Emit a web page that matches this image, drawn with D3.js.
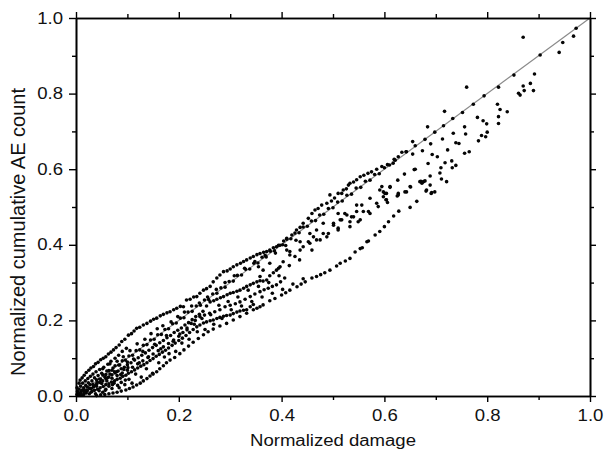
<!DOCTYPE html>
<meta charset="utf-8">
<script src="https://d3js.org/d3.v7.min.js"></script>
<style>body { margin: 0; background: #fff; }</style>
<div id="my_dataviz"></div>
<script>

// points: [normalized damage, normalized cumulative AE count]
var lineSeries = [[0.004,0.006],[0.010,0.012],[0.016,0.015],[0.022,0.024],[0.027,0.030],[0.033,0.031],[0.040,0.043],[0.046,0.045],
  [0.052,0.056],[0.058,0.057],[0.064,0.067],[0.070,0.068],[0.076,0.080],[0.083,0.082],[0.090,0.093],[0.096,0.095],[0.103,0.106],
  [0.110,0.108],[0.117,0.120],[0.124,0.122],[0.131,0.134],[0.138,0.136],[0.145,0.148],[0.152,0.150],[0.159,0.162],[0.166,0.163],
  [0.173,0.176],[0.180,0.178],[0.188,0.191],[0.195,0.193],[0.203,0.206],[0.210,0.207],[0.218,0.222],[0.226,0.224],[0.234,0.238],
  [0.242,0.240],[0.250,0.254],[0.258,0.255],[0.266,0.270],[0.274,0.272],[0.282,0.286],[0.290,0.288],[0.298,0.303],[0.306,0.304],
  [0.314,0.319],[0.322,0.320],[0.330,0.335],[0.338,0.336],[0.346,0.351],[0.354,0.352],[0.362,0.367],[0.370,0.368],[0.378,0.383],
  [0.386,0.384],[0.394,0.399],[0.402,0.400],[0.410,0.415],[0.418,0.416],[0.426,0.431],[0.434,0.432],[0.442,0.447],[0.450,0.449],
  [0.458,0.463],[0.466,0.464],[0.474,0.479],[0.482,0.481],[0.491,0.496],[0.500,0.498],[0.509,0.513],[0.518,0.516],[0.527,0.531],
  [0.536,0.534],[0.545,0.550],[0.554,0.552],[0.563,0.568],[0.572,0.571],[0.581,0.586],[0.590,0.588],[0.600,0.604],[0.610,0.611],
  [0.621,0.624],[0.634,0.645],[0.643,0.646],[0.660,0.662],[0.679,0.679],[0.698,0.698],[0.715,0.715],[0.733,0.734],[0.752,0.750],
  [0.773,0.772],[0.794,0.794],[0.822,0.817],[0.852,0.849],[0.903,0.902],[0.940,0.909],[0.947,0.935],[0.973,0.973]];

var upperSeries = [[0.002,0.022],[0.006,0.034],[0.008,0.042],[0.012,0.048],[0.016,0.055],[0.020,0.062],[0.025,0.068],[0.029,0.074],
  [0.034,0.078],[0.038,0.085],[0.043,0.089],[0.048,0.096],[0.053,0.100],[0.058,0.104],[0.063,0.111],[0.068,0.116],[0.073,0.122],
  [0.078,0.128],[0.084,0.135],[0.089,0.144],[0.095,0.150],[0.102,0.161],[0.108,0.165],[0.113,0.172],[0.118,0.179],[0.124,0.182],
  [0.131,0.188],[0.138,0.192],[0.145,0.198],[0.151,0.203],[0.157,0.206],[0.164,0.212],[0.170,0.216],[0.177,0.220],[0.183,0.223],
  [0.190,0.228],[0.196,0.232],[0.203,0.237],[0.209,0.236],[0.215,0.254],[0.222,0.256],[0.229,0.262],[0.235,0.263],[0.241,0.272],
  [0.248,0.280],[0.254,0.284],[0.261,0.290],[0.267,0.302],[0.274,0.312],[0.280,0.320],[0.287,0.329],[0.294,0.331],[0.300,0.336],
  [0.306,0.342],[0.313,0.347],[0.320,0.351],[0.326,0.356],[0.332,0.360],[0.339,0.365],[0.345,0.369],[0.352,0.374],[0.358,0.377],
  [0.365,0.380],[0.371,0.382],[0.377,0.386],[0.384,0.392],[0.390,0.395],[0.397,0.399],[0.404,0.410],[0.410,0.417],[0.420,0.426],
  [0.429,0.439],[0.436,0.446],[0.442,0.457],[0.452,0.470],[0.459,0.483],[0.465,0.492],[0.471,0.496],[0.478,0.505],[0.488,0.510],
  [0.494,0.532],[0.497,0.516],[0.503,0.524],[0.510,0.536],[0.517,0.536],[0.520,0.545],[0.526,0.548],[0.530,0.558],[0.533,0.563],
  [0.540,0.566],[0.546,0.572],[0.553,0.580],[0.560,0.584],[0.568,0.589],[0.575,0.593],[0.585,0.600],[0.595,0.607],[0.606,0.612],
  [0.617,0.616],[0.627,0.633],[0.655,0.673],[0.684,0.712],[0.717,0.753],[0.760,0.817],[0.870,0.949],[0.968,0.952]];

var belowLineSeries = [[0.010,0.004],[0.016,0.010],[0.022,0.014],[0.028,0.020],[0.034,0.024],[0.040,0.031],[0.046,0.036],[0.052,0.040],
  [0.058,0.046],[0.064,0.050],[0.070,0.056],[0.076,0.061],[0.082,0.066],[0.088,0.072],[0.094,0.076],[0.100,0.083],[0.107,0.088],
  [0.114,0.095],[0.121,0.101],[0.128,0.108],[0.135,0.114],[0.142,0.121],[0.149,0.128],[0.156,0.134],[0.163,0.141],[0.170,0.147],
  [0.177,0.154],[0.184,0.160],[0.191,0.168],[0.198,0.174],[0.205,0.180],[0.212,0.188],[0.219,0.194],[0.226,0.202],[0.233,0.210],
  [0.240,0.216],[0.247,0.224],[0.254,0.238],[0.261,0.249],[0.268,0.252],[0.274,0.256],[0.281,0.260],[0.287,0.263],[0.294,0.268],
  [0.300,0.272],[0.306,0.274],[0.313,0.277],[0.319,0.280],[0.326,0.285],[0.332,0.290],[0.339,0.294],[0.345,0.298],[0.352,0.302],
  [0.358,0.305],[0.364,0.304],[0.371,0.307],[0.377,0.318],[0.384,0.326],[0.390,0.333],[0.397,0.342]];

var midSeries = [[0.355,0.342],[0.358,0.316],[0.364,0.333],[0.377,0.351],[0.394,0.338],[0.403,0.355],[0.410,0.386],[0.416,0.382],
  [0.416,0.373],[0.426,0.369],[0.436,0.408],[0.436,0.386],[0.442,0.395],[0.452,0.408],[0.455,0.404],[0.459,0.386],[0.462,0.421],
  [0.468,0.413],[0.455,0.430],[0.468,0.439],[0.475,0.413],[0.481,0.430],[0.488,0.421],[0.491,0.430],[0.481,0.457],[0.501,0.452],
  [0.501,0.457],[0.510,0.444],[0.517,0.466],[0.510,0.439],[0.510,0.483],[0.514,0.466],[0.523,0.483],[0.527,0.479],[0.533,0.448],
  [0.536,0.474],[0.540,0.474],[0.546,0.488],[0.549,0.461],[0.553,0.466],[0.559,0.488],[0.533,0.461],[0.546,0.505],[0.556,0.505],
  [0.569,0.488],[0.572,0.483],[0.572,0.523],[0.585,0.510],[0.588,0.501],[0.591,0.545],[0.595,0.554],[0.598,0.527],[0.601,0.536],
  [0.604,0.519],[0.604,0.536],[0.611,0.554],[0.627,0.532],[0.627,0.536],[0.643,0.540],[0.650,0.554],[0.669,0.567],[0.682,0.545],
  [0.692,0.538],[0.611,0.552],[0.598,0.540],[0.603,0.519],[0.606,0.512],[0.625,0.529],[0.640,0.540],[0.651,0.553],[0.626,0.571],
  [0.639,0.587],[0.658,0.599],[0.660,0.600],[0.671,0.568],[0.676,0.567],[0.679,0.569],[0.685,0.615],[0.689,0.582],[0.689,0.558],
  [0.673,0.563],[0.708,0.590],[0.710,0.604],[0.718,0.617],[0.731,0.622],[0.732,0.604],[0.739,0.610],[0.619,0.626],[0.642,0.646]];

var lowerSeries = [[0.015,0.004],[0.020,0.008],[0.026,0.006],[0.031,0.012],[0.036,0.015],[0.042,0.018],[0.047,0.022],[0.053,0.025],
  [0.058,0.030],[0.064,0.032],[0.069,0.037],[0.075,0.040],[0.080,0.044],[0.086,0.047],[0.091,0.052],[0.097,0.055],[0.102,0.060],
  [0.108,0.064],[0.114,0.069],[0.120,0.074],[0.126,0.079],[0.132,0.083],[0.138,0.088],[0.144,0.094],[0.150,0.099],[0.156,0.105],
  [0.162,0.110],[0.168,0.116],[0.174,0.121],[0.180,0.127],[0.187,0.134],[0.193,0.140],[0.200,0.147],[0.207,0.153],[0.214,0.160],
  [0.221,0.168],[0.228,0.176],[0.235,0.183],[0.241,0.188],[0.248,0.193],[0.254,0.196],[0.261,0.199],[0.267,0.201],[0.274,0.205],
  [0.280,0.208],[0.287,0.211],[0.293,0.213],[0.300,0.214],[0.306,0.218],[0.313,0.222],[0.319,0.225],[0.326,0.227],[0.332,0.228],
  [0.339,0.236],[0.345,0.242],
  [0.030,0.020],[0.040,0.026],[0.050,0.033],[0.060,0.040],[0.070,0.047],[0.080,0.054],[0.090,0.061],[0.100,0.068],[0.110,0.076],
  [0.120,0.085],[0.130,0.093],[0.140,0.102],[0.150,0.111],[0.160,0.120],[0.170,0.130],[0.180,0.139],[0.190,0.148],[0.200,0.158],
  [0.208,0.168],[0.216,0.180],[0.224,0.192],[0.232,0.200],[0.241,0.210],[0.250,0.214],[0.260,0.219],[0.270,0.223],[0.280,0.228],
  [0.290,0.236],[0.300,0.240],[0.310,0.244],[0.319,0.249],[0.329,0.256],[0.339,0.263],[0.348,0.270],[0.358,0.276],[0.366,0.281],
  [0.374,0.285],[0.382,0.290],[0.390,0.294],[0.398,0.302],[0.406,0.312]];

var lowestSeries = [[0.040,0.001],[0.048,0.003],[0.056,0.004],[0.064,0.006],[0.072,0.008],[0.080,0.010],[0.088,0.013],[0.097,0.016],
  [0.104,0.020],[0.111,0.024],[0.118,0.029],[0.125,0.034],[0.131,0.040],[0.138,0.046],[0.144,0.053],[0.150,0.058],[0.157,0.064],
  [0.163,0.072],[0.170,0.080],[0.176,0.088],[0.183,0.095],[0.192,0.102],[0.202,0.112],[0.210,0.122],[0.219,0.132],[0.228,0.142],
  [0.238,0.152],[0.248,0.162],[0.257,0.170],[0.267,0.177],[0.280,0.185],[0.293,0.192],[0.306,0.201],[0.319,0.210],
  [0.332,0.219],[0.345,0.228],[0.352,0.232],[0.358,0.236],[0.364,0.241],[0.377,0.252],[0.387,0.258],[0.400,0.267],[0.408,0.273],
  [0.416,0.280],[0.430,0.289],[0.438,0.296],[0.446,0.302],[0.459,0.312],[0.468,0.316],[0.476,0.321],[0.484,0.326],[0.494,0.333],
  [0.507,0.344],[0.514,0.351],[0.524,0.357],[0.533,0.364],[0.543,0.381],[0.553,0.390],[0.557,0.392],[0.566,0.408],[0.569,0.410],
  [0.582,0.426],[0.591,0.435],[0.600,0.448],[0.608,0.461],[0.618,0.476],[0.628,0.489],[0.650,0.499],[0.663,0.515],[0.681,0.542],
  [0.691,0.536],[0.698,0.540],[0.711,0.574],[0.721,0.567]];

var topRightSeries = [[0.655,0.640],[0.674,0.649],[0.690,0.667],[0.693,0.639],[0.703,0.633],[0.713,0.680],[0.723,0.651],[0.734,0.695],
  [0.739,0.670],[0.745,0.668],[0.756,0.712],[0.758,0.693],[0.756,0.642],[0.765,0.646],[0.781,0.737],[0.783,0.675],[0.789,0.689],
  [0.792,0.728],[0.797,0.686],[0.799,0.720],[0.800,0.698],[0.820,0.772],[0.825,0.758],[0.822,0.739],[0.822,0.721],[0.839,0.752],
  [0.861,0.801],[0.864,0.796],[0.870,0.820],[0.872,0.808],[0.884,0.827],[0.890,0.808],[0.892,0.852]];

var originCluster = [[0.002,0.004],[0.003,0.012],[0.005,0.002],[0.006,0.018],[0.008,0.008],[0.009,0.026],[0.011,0.003],[0.012,0.016],
  [0.013,0.034],[0.015,0.022],[0.017,0.009],[0.018,0.040],[0.019,0.028],[0.021,0.015],[0.023,0.046],[0.024,0.035],[0.026,0.020],
  [0.028,0.052],[0.029,0.010],[0.031,0.040],[0.033,0.058],[0.034,0.027],[0.036,0.048],[0.038,0.006],[0.039,0.064],[0.041,0.036],
  [0.043,0.054],[0.045,0.014],[0.046,0.070],[0.048,0.044],[0.050,0.060],[0.052,0.010],[0.054,0.076],[0.056,0.050],[0.058,0.018],
  [0.060,0.066],[0.062,0.084],[0.064,0.026],[0.066,0.058],[0.068,0.092],[0.070,0.020],[0.072,0.074],[0.074,0.034],[0.076,0.100],
  [0.079,0.064],[0.081,0.028],[0.083,0.108],[0.085,0.082],[0.088,0.036],[0.090,0.118],[0.093,0.070],[0.095,0.030],[0.098,0.126],
  [0.100,0.090],[0.103,0.044]];

// loose points lying between the bands
var scatterFill = [[0.052,0.072],[0.057,0.015],[0.061,0.048],[0.066,0.085],[0.071,0.030],[0.075,0.064],[0.080,0.092],[0.084,0.022],
  [0.087,0.057],[0.092,0.104],[0.096,0.042],[0.101,0.075],[0.105,0.120],[0.109,0.034],[0.112,0.098],[0.116,0.058],[0.119,0.138],
  [0.123,0.088],[0.127,0.050],[0.130,0.118],[0.134,0.150],[0.137,0.072],[0.141,0.104],[0.146,0.165],[0.149,0.060],[0.153,0.137],
  [0.158,0.178],[0.161,0.088],[0.165,0.125],[0.169,0.186],[0.172,0.103],[0.176,0.160],[0.181,0.112],[0.185,0.196],[0.189,0.145],
  [0.194,0.118],[0.198,0.210],[0.202,0.164],[0.206,0.140],[0.211,0.222],[0.216,0.175],[0.220,0.150],[0.225,0.238],[0.230,0.190],
  [0.236,0.170],[0.240,0.246],[0.245,0.205],[0.251,0.176],[0.256,0.262],[0.262,0.215],[0.268,0.190],[0.273,0.282],[0.278,0.240],
  [0.284,0.205],[0.290,0.300],[0.296,0.250],[0.302,0.228],[0.308,0.318],[0.315,0.262],[0.322,0.238],[0.328,0.338],[0.335,0.280],
  [0.342,0.250],[0.348,0.356],[0.355,0.290],[0.362,0.262],[0.368,0.372],[0.375,0.300],[0.382,0.272],[0.388,0.378],[0.395,0.318],
  [0.402,0.282],[0.408,0.398],[0.415,0.345],[0.422,0.296],[0.428,0.412],[0.435,0.360],[0.442,0.310]];

var majorTicks = [0, 0.2, 0.4, 0.6, 0.8, 1.0];
var minorTicks = [0.1, 0.3, 0.5, 0.7, 0.9];

// set the dimensions and margins of the graph
var margin = {top: 18, right: 14, bottom: 60, left: 76},
  width = 604 - margin.left - margin.right,
  height = 456 - margin.top - margin.bottom;

var fontFamily = "'Liberation Sans', Arial, sans-serif";
var sx = 1.16;  // the original text is a bit wider than it is tall

var svg = d3.select("#my_dataviz")
  .append("svg")
    .attr("width", width + margin.left + margin.right)
    .attr("height", height + margin.top + margin.bottom)
  .append("g")
    .attr("transform", "translate(" + margin.left + "," + margin.top + ")");

var x = d3.scaleLinear().domain([0, 1]).range([0, width]);
var y = d3.scaleLinear().domain([0, 1]).range([height, 0]);

// reference line y = x
svg.append("line")
  .attr("x1", x(0)).attr("y1", y(0))
  .attr("x2", x(1)).attr("y2", y(1))
  .style("stroke", "#8a8a8a")
  .style("stroke-width", 1.2);

// all the points
var allPoints = [].concat(lineSeries, upperSeries, belowLineSeries, midSeries,
  lowerSeries, lowestSeries, topRightSeries, originCluster, scatterFill);

svg.selectAll(".dot")
  .data(allPoints)
  .enter()
  .append("circle")
    .attr("class", "dot")
    .attr("cx", function(d) { return x(d[0]); })
    .attr("cy", function(d) { return y(d[1]); })
    .attr("r", 1.8)
    .style("fill", "#050505");

// axes: major ticks with labels, minor ticks without
function styleAxis(g) {
  g.select(".domain").style("stroke", "#000").style("stroke-width", 1.6);
  g.selectAll(".tick line").style("stroke", "#000").style("stroke-width", 1.4);
  g.attr("font-family", fontFamily).attr("font-size", 16);
}

svg.append("g")
  .attr("transform", "translate(0," + height + ")")
  .call(d3.axisBottom(x).tickValues(majorTicks).tickSize(6).tickSizeOuter(0)
    .tickPadding(8).tickFormat(d3.format(".1f")))
  .call(styleAxis)
  .selectAll("text")
    .attr("transform", "scale(" + sx + ",1)")
    .style("fill", "#111");

svg.append("g")
  .attr("transform", "translate(0," + height + ")")
  .call(d3.axisBottom(x).tickValues(minorTicks).tickSize(4).tickSizeOuter(0).tickFormat(""))
  .call(styleAxis);

svg.append("g")
  .call(d3.axisLeft(y).tickValues(majorTicks).tickSize(7).tickSizeOuter(0)
    .tickPadding(6).tickFormat(d3.format(".1f")))
  .call(styleAxis)
  .selectAll("text")
    .attr("x", -13 / sx)
    .attr("transform", "scale(" + sx + ",1)")
    .style("fill", "#111");

svg.append("g")
  .call(d3.axisLeft(y).tickValues(minorTicks).tickSize(4).tickSizeOuter(0).tickFormat(""))
  .call(styleAxis);

svg.append("g")
  .call(d3.axisTop(x).tickValues(majorTicks).tickSize(6).tickSizeOuter(0).tickFormat(""))
  .call(styleAxis);
svg.append("g")
  .call(d3.axisTop(x).tickValues(minorTicks).tickSize(4).tickSizeOuter(0).tickFormat(""))
  .call(styleAxis);

svg.append("g")
  .attr("transform", "translate(" + width + ",0)")
  .call(d3.axisRight(y).tickValues(majorTicks).tickSize(6).tickSizeOuter(0).tickFormat(""))
  .call(styleAxis);
svg.append("g")
  .attr("transform", "translate(" + width + ",0)")
  .call(d3.axisRight(y).tickValues(minorTicks).tickSize(4).tickSizeOuter(0).tickFormat(""))
  .call(styleAxis);

// axis titles
svg.append("text")
  .attr("transform", "translate(" + (width / 2) + "," + (height + 50) + ") scale(" + sx + ",1)")
  .attr("font-family", fontFamily)
  .style("font-size", "16px")
  .style("text-anchor", "middle")
  .style("fill", "#111")
  .text("Normalized damage");

svg.append("text")
  .attr("transform", "translate(" + (25 - margin.left) + "," + (height / 2 + 25) + ") rotate(-90)")
  .attr("font-family", fontFamily)
  .style("font-size", "20px")
  .style("text-anchor", "middle")
  .style("fill", "#111")
  .text("Normalized cumulative AE count");

</script>
